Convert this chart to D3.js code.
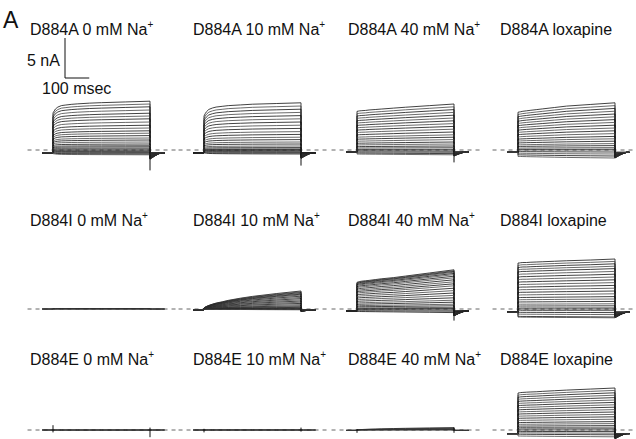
<!DOCTYPE html>
<html>
<head>
<meta charset="utf-8">
<script src="https://cdn.jsdelivr.net/npm/d3@7"></script>
<style>
  body { margin: 0; background: #fff; }
  text { font-family: Arial, "Liberation Sans", sans-serif; fill: #111; }
</style>
</head>
<body>
<svg id="fig" width="636" height="439"></svg>
<script>

// mutants (rows) and conditions (columns)
var mutants = ['D884A', 'D884I', 'D884E'];
var conditions = ['0 mM Na', '10 mM Na', '40 mM Na', 'loxapine'];
var plusSign = [true, true, true, false];

// time points (msec) of the activation profiles
var shapeTimes = [0, 5, 10, 20, 35, 50, 75, 100, 150, 200, 300, 400];
// fraction of the final current reached at each time point
var shapeFastA = [0.76, 0.8, 0.84, 0.88, 0.91, 0.92, 0.935, 0.945, 0.96, 0.97, 0.985, 1];
var shapeFastB = [0.72, 0.77, 0.81, 0.86, 0.89, 0.91, 0.925, 0.94, 0.955, 0.97, 0.985, 1];
var shapeMid   = [0.84, 0.845, 0.85, 0.855, 0.86, 0.87, 0.88, 0.89, 0.91, 0.93, 0.965, 1];
var shapeLoxA  = [0.8, 0.805, 0.81, 0.82, 0.83, 0.84, 0.855, 0.87, 0.9, 0.93, 0.965, 1];
var shapeSlow  = [0.05, 0.1, 0.14, 0.2, 0.27, 0.33, 0.4, 0.48, 0.6, 0.7, 0.86, 1];
var shapeNa40  = [0.68, 0.69, 0.7, 0.71, 0.72, 0.73, 0.75, 0.77, 0.8, 0.84, 0.92, 1];
var shapeLoxI  = [0.92, 0.92, 0.925, 0.93, 0.93, 0.935, 0.94, 0.945, 0.955, 0.965, 0.98, 1];
var shapeLoxE  = [0.88, 0.885, 0.89, 0.895, 0.9, 0.905, 0.91, 0.92, 0.935, 0.95, 0.975, 1];
var shapeFlat  = [1, 1, 1, 1, 1, 1, 1, 1, 1, 1, 1, 1];

// tail current decay after the step (msec after step start, fraction of peak)
var tailTimes = [400, 410, 422, 435, 448];
var tailFrac  = [1, 0.75, 0.45, 0.18, 0];

// final current (nA) of each trace, one array per panel
var ampsA0   = [6.1, 5.75, 5.4, 5.0, 4.6, 4.25, 3.9, 3.5, 3.1, 2.75, 2.4, 2.1, 1.8, 1.5, 1.25, 1.0, 0.75, 0.55, 0.4, 0.25, 0.12, 0, -0.12, -0.2, -0.3, -0.4, -0.5, -0.6];
var ampsA10  = [5.9, 5.5, 5.1, 4.7, 4.3, 3.9, 3.5, 3.1, 2.7, 2.3, 1.95, 1.6, 1.3, 1.0, 0.75, 0.5, 0.3, 0.15, 0.05, 0, -0.1, -0.2, -0.3, -0.4, -0.5];
var ampsA40  = [5.75, 5.4, 5.05, 4.7, 4.35, 4.0, 3.65, 3.3, 2.95, 2.6, 2.25, 1.9, 1.6, 1.3, 1.0, 0.75, 0.5, 0.3, 0.1, 0, -0.15, -0.3, -0.45, -0.6];
var ampsALox = [5.9, 5.55, 5.2, 4.85, 4.5, 4.15, 3.8, 3.45, 3.1, 2.75, 2.4, 2.05, 1.7, 1.4, 1.1, 0.8, 0.55, 0.3, 0.1, 0, -0.25, -0.5, -0.75, -1.0];
var ampsI0   = [0.06, 0.03, 0, -0.03];
var ampsI10  = [2.25, 2.15, 2.05, 1.95, 1.85, 1.75, 1.6, 1.45, 1.3, 1.15, 1.0, 0.85, 0.7, 0.55, 0.4, 0.3, 0.2, 0.1, 0.05, 0, -0.05, -0.1];
var ampsI40  = [4.9, 4.8, 4.7, 4.6, 4.45, 4.3, 4.1, 3.9, 3.65, 3.4, 3.15, 2.9, 2.6, 2.3, 2.0, 1.7, 1.4, 1.1, 0.85, 0.6, 0.4, 0.2, 0.05, 0, -0.15, -0.3, -0.45];
var ampsILox = [6.25, 5.95, 5.65, 5.35, 5.05, 4.7, 4.35, 4.0, 3.65, 3.3, 2.95, 2.6, 2.25, 1.9, 1.55, 1.25, 0.95, 0.65, 0.4, 0.15, 0, -0.2, -0.45, -0.7, -1.0, -1.1];
var ampsE0   = [0.02, 0, -0.02];
var ampsE10  = [0.03, 0, -0.02];
var ampsE40  = [0.3, 0.22, 0.15, 0.08, 0.03, 0];
var ampsELox = [5.25, 4.95, 4.65, 4.35, 4.05, 3.75, 3.45, 3.15, 2.85, 2.55, 2.25, 1.95, 1.65, 1.35, 1.05, 0.8, 0.55, 0.35, 0.15, 0, -0.2, -0.4, -0.6, -0.85];

// holding current, peak tail of the largest trace, capacitive spikes (nA)
var holding  = [-0.35, -0.35, -0.25, -0.3,  0, -0.1, -0.25, -0.4,  0, 0, -0.05, -0.45];
var tailPeak = [-0.8, -0.7, -0.5, -0.7,  0, -0.2, -0.6, -0.7,  0, 0, 0, -0.65];
var capOn    = [0, 0, 0, 0,  0, 0, 0, 0,  0.6, 0.15, 0.1, 0];
var capOff   = [-2.2, -1.6, -1.3, -0.7,  0, -0.2, -1.2, -0.5,  -0.9, -0.2, -0.3, -0.6];

var panelAmps = [ampsA0, ampsA10, ampsA40, ampsALox, ampsI0, ampsI10, ampsI40, ampsILox, ampsE0, ampsE10, ampsE40, ampsELox];
var panelShapes = [shapeFastA, shapeFastB, shapeMid, shapeLoxA, shapeFlat, shapeSlow, shapeNa40, shapeLoxI, shapeFlat, shapeFlat, shapeSlow, shapeLoxE];

// layout
var colX = [53, 204, 357, 518];
var rowY = [150, 309, 430];
var titleX = [30, 193, 348, 500];
var titleY = [35, 226, 365];

var svg = d3.select('#fig');

svg.append('text').attr('x', 3).attr('y', 28).style('font-size', '23px').text('A');

function draw_panel(r, c) {
    var p = r * 4 + c;
    var x = d3.scaleLinear().domain([0, 400]).range([colX[c], colX[c] + 97]);
    var y = d3.scaleLinear().domain([0, 5]).range([rowY[r], rowY[r] - 40]);
    var g = svg.append('g');

    // zero current line
    g.append('line')
        .attr('x1', x(-105)).attr('x2', x(508))
        .attr('y1', y(0)).attr('y2', y(0))
        .attr('stroke', '#666').attr('stroke-width', 1)
        .attr('stroke-dasharray', '4,4');

    var amps = panelAmps[p], shape = panelShapes[p], hold = holding[p];
    var maxAmp = d3.max(amps);
    var line = d3.line().x(function(d) { return x(d[0]); }).y(function(d) { return y(d[1]); });

    amps.forEach(function(a, k) {
        var pts = [[-45, hold], [0, hold]];
        shapeTimes.forEach(function(t, i) { pts.push([t, a * shape[i]]); });
        var w = maxAmp > 0 ? Math.max(a, 0) / maxAmp : 0;
        tailTimes.forEach(function(t, i) { pts.push([t, hold + tailPeak[p] * Math.sqrt(w) * tailFrac[i]]); });
        pts.push([460, hold]);
        g.append('path')
            .attr('d', line(pts))
            .attr('fill', 'none')
            .attr('stroke', k % 2 ? '#444' : '#111')
            .attr('stroke-width', 0.8);
    });

    // capacitive transients
    if (capOn[p] !== 0) {
        g.append('line').attr('x1', x(0)).attr('x2', x(0))
            .attr('y1', y(hold - 0.3)).attr('y2', y(capOn[p]))
            .attr('stroke', '#111').attr('stroke-width', 1);
    }
    if (capOff[p] !== 0) {
        g.append('line').attr('x1', x(400)).attr('x2', x(400))
            .attr('y1', y(0.3)).attr('y2', y(hold + capOff[p]))
            .attr('stroke', '#111').attr('stroke-width', 1);
    }

    // title
    var t = svg.append('text').attr('x', titleX[c]).attr('y', titleY[r]).style('font-size', '16px');
    t.append('tspan').text(mutants[r] + ' ' + conditions[c]);
    if (plusSign[c]) {
        t.append('tspan').attr('dy', -7).style('font-size', '10px').text('+');
    }
}

for (var r = 0; r < mutants.length; r++) {
    for (var c = 0; c < conditions.length; c++) {
        draw_panel(r, c);
    }
}

// scale bar: 5 nA, 100 msec
var sx = d3.scaleLinear().domain([0, 400]).range([65, 162]);
var sy = d3.scaleLinear().domain([0, 5]).range([78, 38]);
svg.append('path')
    .attr('d', 'M' + sx(0) + ',' + sy(5) + 'V' + sy(0) + 'H' + sx(100))
    .attr('fill', 'none').attr('stroke', '#111').attr('stroke-width', 1);
svg.append('text').attr('x', 27).attr('y', 66).style('font-size', '16px').text('5 nA');
svg.append('text').attr('x', 42).attr('y', 94).style('font-size', '16px').text('100 msec');

</script>
</body>
</html>
